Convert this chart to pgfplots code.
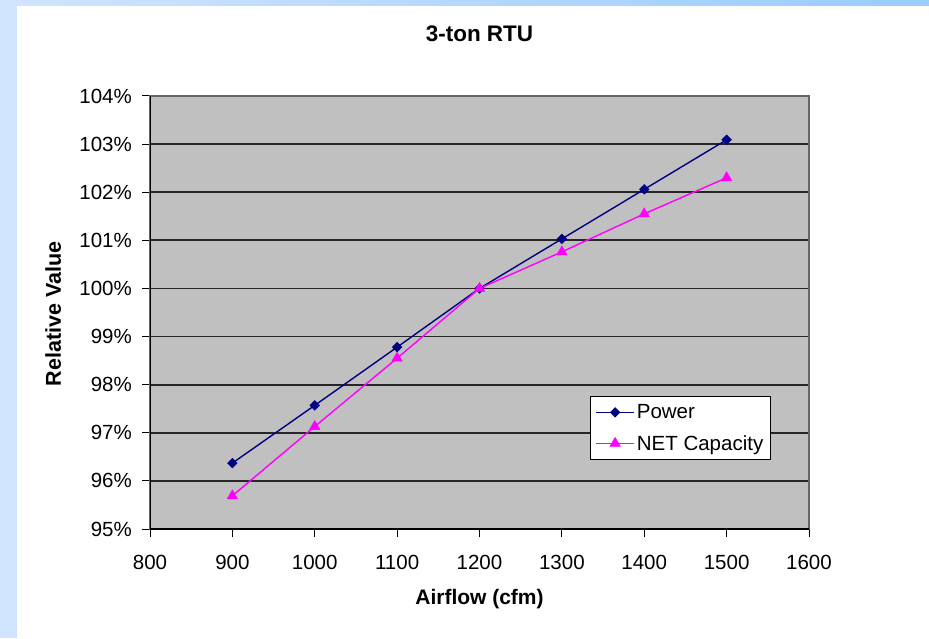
\documentclass[border=0pt]{standalone}
\usepackage{pgfplots}
\pgfplotsset{compat=1.18}
\usepackage{fontspec}
\setmainfont{Liberation Sans}
\definecolor{plotgray}{RGB}{192,192,192}
\definecolor{powerc}{RGB}{0,0,128}
\definecolor{netc}{RGB}{255,0,255}
\definecolor{bandtop}{RGB}{153,204,255}
\definecolor{bandleft}{RGB}{208,228,255}
\begin{document}
\begin{tikzpicture}[x=1pt,y=1pt]
\fill[white] (0,0) rectangle (929,638);
\shade[left color=bandleft, right color=bandtop] (0,632) rectangle (929,638);
\fill[bandleft] (0,0) rectangle (17,632);
\begin{axis}[
  at={(150pt,109pt)}, anchor=south west,
  width=659pt, height=433pt, scale only axis,
  xmin=800, xmax=1600, ymin=95, ymax=104,
  xtick={800,900,...,1600}, ytick={95,96,...,104},
  xtick pos=bottom, ytick pos=left,
  tick align=outside, major tick length=8pt,
  tick style={black, line width=1pt},
  axis background/.style={fill=plotgray},
  axis line style={draw=black!60, line width=1.2pt},
  ymajorgrids, grid style={black!85, line width=1.7pt},
  font=\fontsize{20.5}{24}\selectfont,
  /pgf/number format/assume math mode=true,
  /pgf/number format/1000 sep={},
  yticklabel={\pgfmathprintnumber{\tick}\%},
  yticklabel style={anchor=east, inner sep=0pt, xshift=-10pt},
  xticklabel style={anchor=north, inner sep=0pt, yshift=-18pt},
  title={\bfseries 3-ton RTU},
  title style={at={(axis description cs:0.5,1.129)}, anchor=center, font=\fontsize{22.5}{26}\selectfont},
  xlabel={\bfseries Airflow (cfm)},
  xlabel style={at={(axis description cs:0.5,-0.1617)}, anchor=center, font=\fontsize{21}{24}\selectfont},
  ylabel={\bfseries Relative Value},
  ylabel style={at={(axis description cs:-0.147,0.497)}, anchor=center, font=\fontsize{21.5}{24}\selectfont},
  legend style={at={(axis description cs:0.942,0.307)}, anchor=north east,
    draw=black, line width=1pt, fill=white, font=\fontsize{20.5}{24}\selectfont,
    row sep=11pt, inner xsep=5pt, inner ysep=6pt},
  legend cell align=left,
  legend image code/.code={\draw[mark repeat=2, mark phase=2] plot coordinates {(0pt,0pt) (19pt,0pt) (38pt,0pt)};},
]
\draw[black, line width=1.2pt] (rel axis cs:0,1) -- (rel axis cs:0,0) -- (rel axis cs:1,0);
\addplot[color=powerc, line width=1.4pt, mark=square*, mark size=3.4pt, mark options={rotate=45, fill=powerc, draw=powerc, line width=0.5pt}]
  coordinates {(900,96.37) (1000,97.57) (1100,98.78) (1200,100.00) (1300,101.03) (1400,102.06) (1500,103.09)};
\addlegendentry{Power}
\addplot[color=netc, line width=1.4pt, mark=triangle*, mark size=6pt, mark options={fill=netc, draw=netc, line width=0.5pt}]
  coordinates {(900,95.69) (1000,97.13) (1100,98.55) (1200,100.00) (1300,100.76) (1400,101.55) (1500,102.30)};
\addlegendentry{NET Capacity}
\end{axis}
\pgfresetboundingbox
\useasboundingbox (0,0) rectangle (929,638);
\end{tikzpicture}
\end{document}
